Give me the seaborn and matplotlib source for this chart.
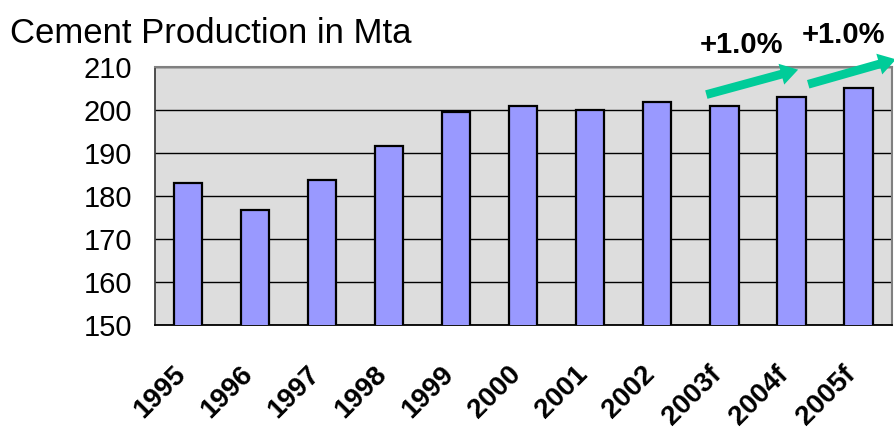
import numpy as np
import pandas as pd
import matplotlib
matplotlib.use('Agg')
import matplotlib.pyplot as plt
import matplotlib.transforms as mtransforms
import seaborn as sns

# Data
years = ['1995', '1996', '1997', '1998', '1999', '2000', '2001', '2002', '2003f', '2004f', '2005f']
production = [183.0, 176.7, 183.8, 191.7, 199.6, 200.9, 200.1, 201.8, 200.9, 203.1, 205.2]
growth_labels = ['+1.0%', '+1.0%']

sns.set_theme(style='white')
plt.rcParams['font.family'] = ['Liberation Sans', 'DejaVu Sans']
plt.rcParams['text.color'] = 'black'
plt.rcParams['xtick.labelcolor'] = 'black'
plt.rcParams['ytick.labelcolor'] = 'black'

df = pd.DataFrame({'year': years, 'mta': production})

fig = plt.figure(figsize=(8.95, 4.3), dpi=100)
ax = fig.add_axes([0.173, 0.244, 0.8236, 0.6])
ax.set_facecolor('#DDDDDD')

sns.barplot(data=df, x='year', y='mta', color='#9999FF', saturation=1,
            edgecolor='black', linewidth=1.6, width=0.42, ax=ax, zorder=3)

ax.set_ylim(150, 210)
ax.set_xlim(-0.5, len(years) - 0.5)
ax.set_yticks(np.arange(150, 211, 10))
ax.yaxis.grid(True, color='black', linewidth=1.0, zorder=1)
ax.set_axisbelow(True)
ax.set_xlabel('')
ax.set_ylabel('')

# category ticks sit between bars like in Excel
ax.set_xticks(np.arange(-0.5, len(years), 1.0), minor=True)
ax.tick_params(axis='x', which='minor', length=6, width=1.2, color='#404040', direction='out')
ax.tick_params(axis='x', which='major', length=0, pad=26)
ax.set_xticklabels(years, rotation=45, ha='right', rotation_mode='anchor',
                   fontsize=20, fontweight='bold')
shift = mtransforms.ScaledTranslation(-16 / 100, 0, fig.dpi_scale_trans)
for lab in ax.get_xticklabels():
    lab.set_transform(lab.get_transform() + shift)
ax.tick_params(axis='y', length=6.5, width=1.2, color='#404040', direction='out',
               labelsize=21, pad=10)

for side in ['top', 'right']:
    ax.spines[side].set_color('#808080')
    ax.spines[side].set_linewidth(1.5)
ax.spines['left'].set_color('#404040')
ax.spines['left'].set_linewidth(1.3)
ax.spines['bottom'].set_color('black')
ax.spines['bottom'].set_linewidth(1.3)

fig.text(0.011, 0.9, 'Cement Production in Mta', fontsize=25, ha='left', va='baseline')

# growth arrows for the forecast years
green = '#00CC99'
arrows = [((7.73, 203.6), (9.1, 209.4)), ((9.25, 206.0), (10.56, 211.8))]
for (start, end), lab in zip(arrows, growth_labels):
    ax.annotate('', xy=end, xytext=start, annotation_clip=False,
                arrowprops=dict(facecolor=green, edgecolor='none', width=6.3,
                                headwidth=15.5, headlength=12.5, shrink=0))
ax.text(8.26, 213.3, growth_labels[0], fontsize=21, fontweight='bold', ha='center', va='baseline')
ax.text(9.78, 215.6, growth_labels[1], fontsize=21, fontweight='bold', ha='center', va='baseline',
        clip_on=False)

fig.savefig('out.png', dpi=100)
